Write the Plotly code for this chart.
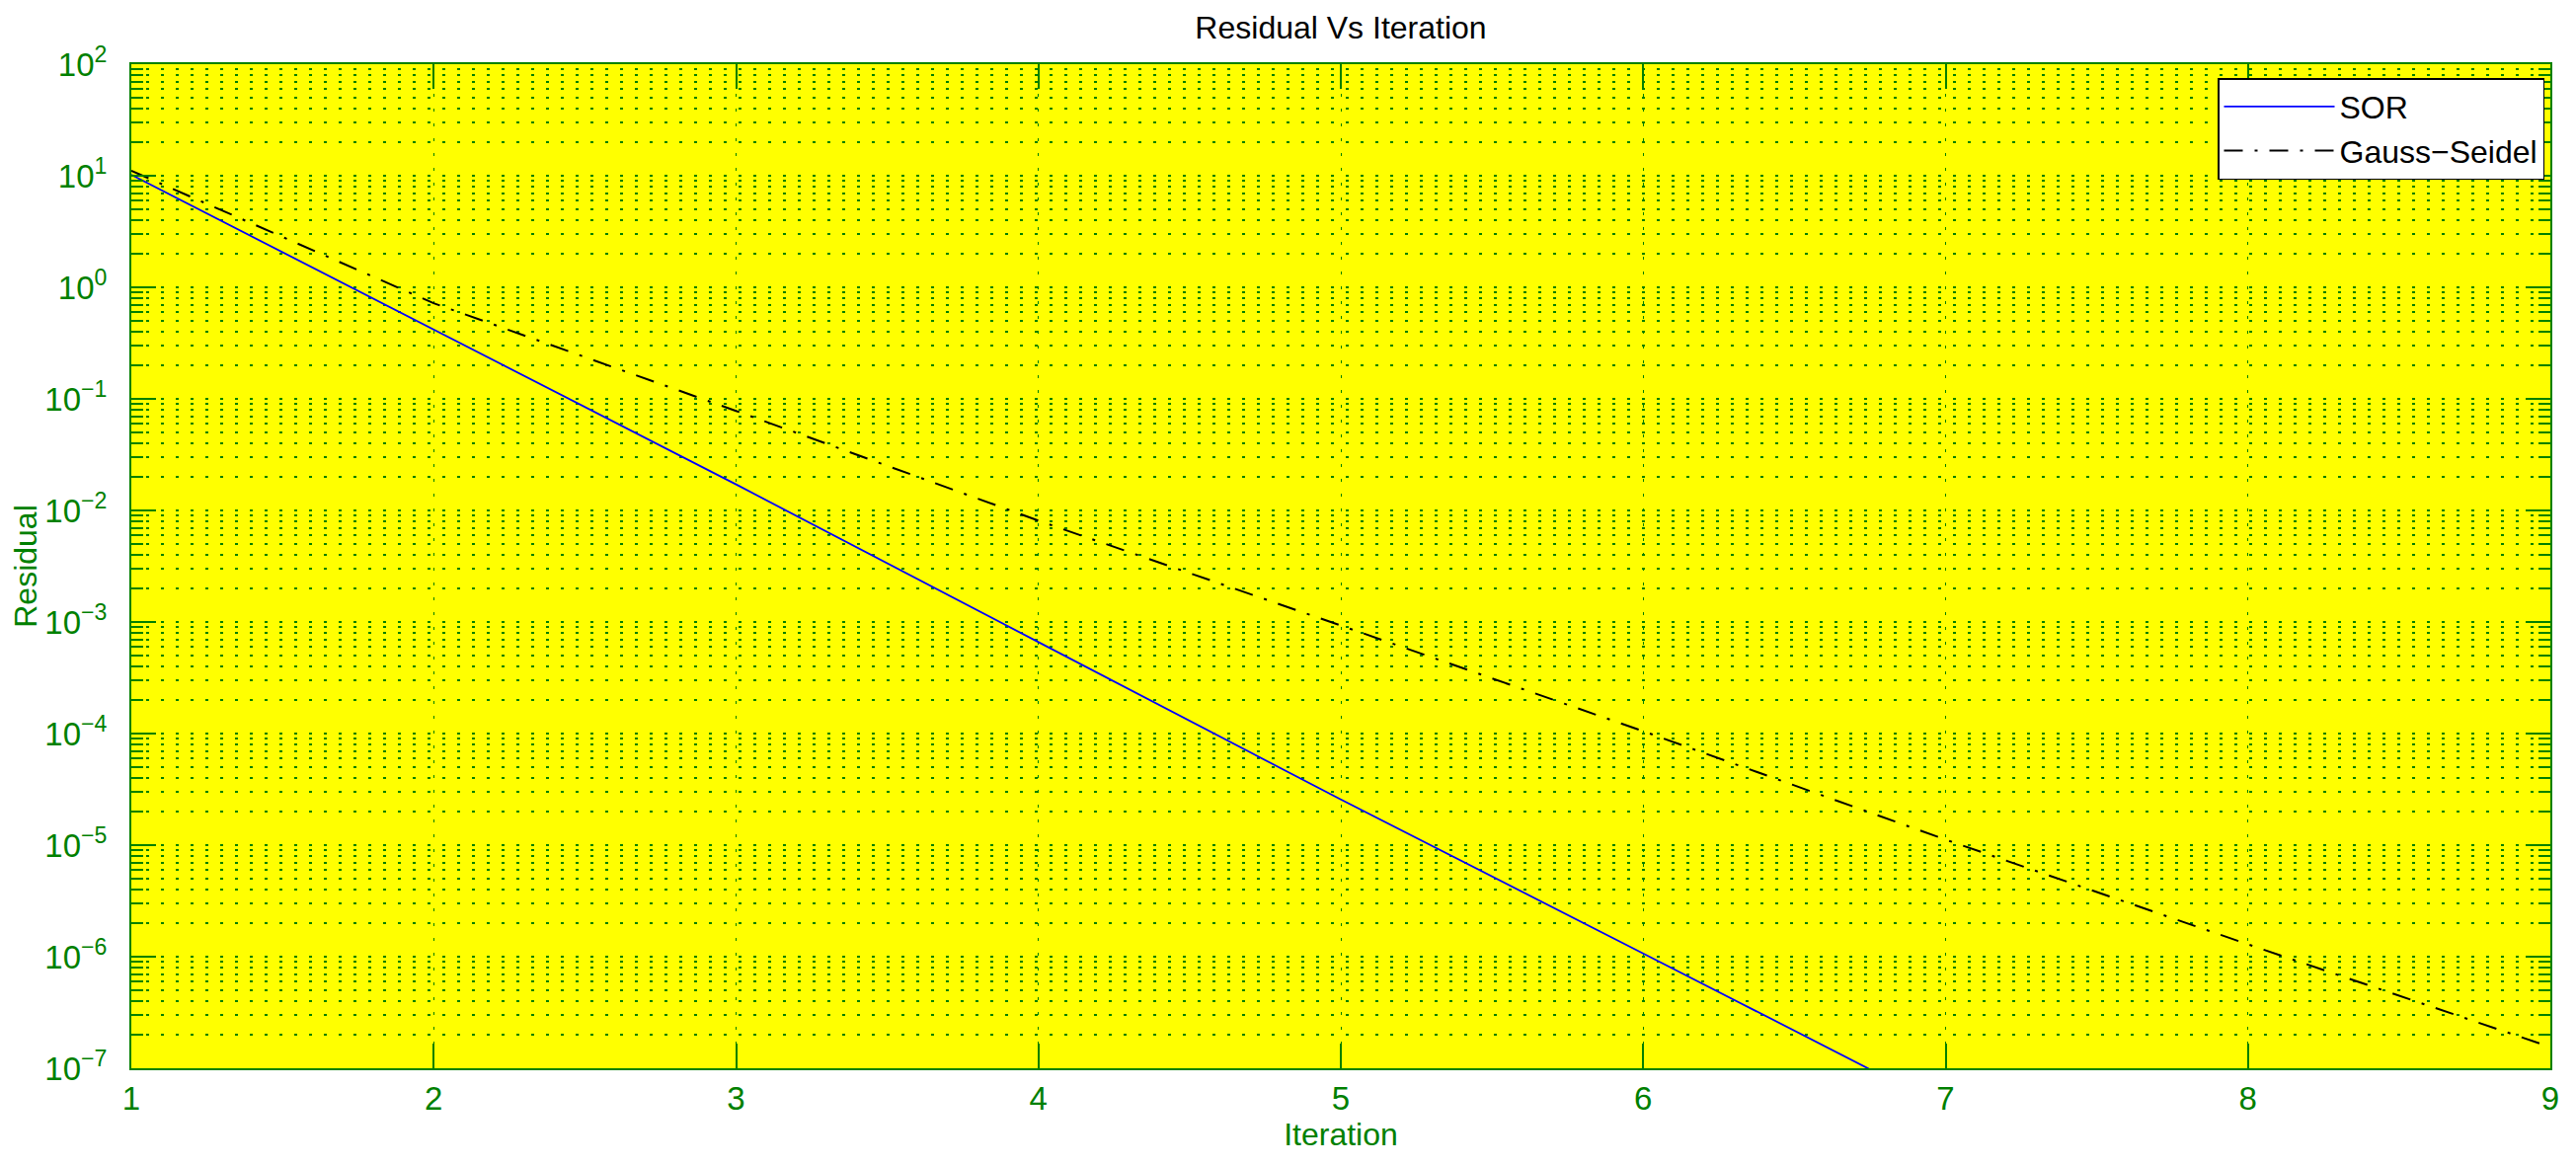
import plotly.graph_objects as go

iterations = [1, 2, 3, 4, 5, 6, 7, 8, 9]
sor_iter = [1, 2, 3, 4, 5, 6, 7]
sor_residual = [10.2, 0.42, 0.0171, 6.6e-4, 2.57e-5, 1.07e-6, 4.4e-8]
gs_residual = [11.1, 0.72, 0.078, 0.0081, 9.3e-4, 1.05e-4, 1.12e-5, 1.29e-6, 1.55e-7]

y_exponents = [-7, -6, -5, -4, -3, -2, -1, 0, 1, 2]
x_ticks = [1, 2, 3, 4, 5, 6, 7, 8, 9]

GREEN = "rgb(0,128,0)"
FONT = "Liberation Sans, Arial, Helvetica, sans-serif"

# page has an 8px body margin; figure sized so the plot area lands where the reference has it
W, H = 2601, 1173
ML, MR, MT, MB = 125, 26, 57, 99
PW, PH = W - ML - MR, H - MT - MB

fig = go.Figure()
fig.add_trace(go.Scatter(x=sor_iter, y=sor_residual, mode="lines", name="SOR",
                         line=dict(color="rgb(0,0,255)", width=1.8)))
fig.add_trace(go.Scatter(x=iterations, y=gs_residual, mode="lines", name="Gauss\u2212Seidel",
                         line=dict(color="black", width=2, dash="19px,12px,3px,12px")))

ytickvals = [10.0 ** e for e in y_exponents]
yticktext = ["10<sup>%s</sup>" % (str(e).replace("-", "\u2212")) for e in y_exponents]
minor_vals = [k * 10.0 ** e for e in y_exponents[:-1] for k in range(2, 10)]

fig.update_layout(
    width=W, height=H,
    paper_bgcolor="white", plot_bgcolor="rgb(255,255,0)",
    margin=dict(l=ML, r=MR, t=MT, b=MB, autoexpand=False),
    font=dict(family=FONT, size=33, color=GREEN),
    title=dict(text="Residual Vs Iteration", x=(ML + PW / 2) / W, xanchor="center",
               y=1 - 20 / H, yanchor="middle",
               font=dict(family=FONT, size=32, color="black")),
    showlegend=True,
    legend=dict(x=1 - 6 / PW, xanchor="right", y=1 - 14 / PH, yanchor="top",
                bgcolor="white", bordercolor="black", borderwidth=1.5,
                font=dict(family=FONT, size=32, color="black"),
                itemwidth=112, tracegroupgap=0),
)

fig.update_xaxes(
    range=[1, 9], tickvals=x_ticks, ticktext=[str(v) for v in x_ticks],
    ticks="inside", ticklen=25, tickwidth=2, tickcolor=GREEN,
    showline=True, linecolor=GREEN, linewidth=2, mirror="allticks",
    showgrid=True, gridcolor=GREEN, gridwidth=1, griddash="3px,12px",
    zeroline=False, tickfont=dict(family=FONT, size=33, color=GREEN),
    ticklabelstandoff=0, automargin=False,
    title=dict(text="Iteration", font=dict(family=FONT, size=32, color=GREEN), standoff=8),
)

fig.update_yaxes(
    type="log", range=[-7, 2], tickvals=ytickvals, ticktext=yticktext,
    ticks="inside", ticklen=25, tickwidth=2, tickcolor=GREEN,
    showline=True, linecolor=GREEN, linewidth=2, mirror="allticks",
    showgrid=True, gridcolor=GREEN, gridwidth=2, griddash="3px,12px",
    zeroline=False, tickfont=dict(family=FONT, size=33, color=GREEN),
    ticklabelstandoff=16, automargin=False,
    minor=dict(tickmode="array", tickvals=minor_vals, ticks="inside", ticklen=12,
               tickwidth=2, tickcolor=GREEN, showgrid=True, gridcolor=GREEN,
               gridwidth=2, griddash="3px,12px"),
    title=dict(text="Residual", font=dict(family=FONT, size=32, color=GREEN), standoff=0),
)

fig.write_html("out.html")
